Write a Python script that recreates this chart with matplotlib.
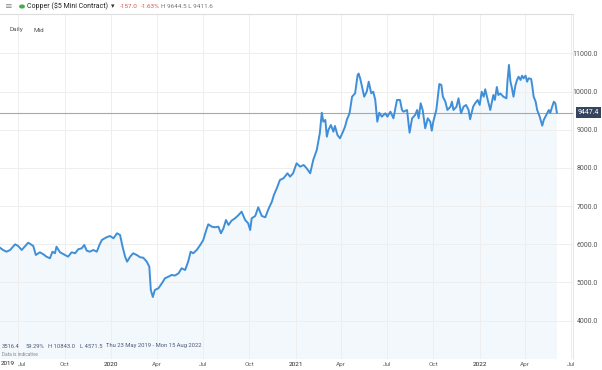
import numpy as np
import pandas as pd
import matplotlib
matplotlib.use("Agg")
import matplotlib.pyplot as plt
import matplotlib.transforms as mtransforms

plt.rcParams['font.family'] = ['Roboto', 'DejaVu Sans']

# copper ($5 mini contract)
dates = [
    "2019-05-23", "2019-06-01", "2019-06-08", "2019-06-15", "2019-06-25", "2019-07-01",
    "2019-07-08", "2019-07-15", "2019-07-21", "2019-07-28", "2019-07-31", "2019-08-05",
    "2019-08-13", "2019-08-20", "2019-08-26", "2019-09-02", "2019-09-07", "2019-09-12",
    "2019-09-15", "2019-09-22", "2019-10-02", "2019-10-08", "2019-10-15", "2019-10-22",
    "2019-10-28", "2019-11-04", "2019-11-09", "2019-11-14", "2019-11-20", "2019-11-27",
    "2019-12-04", "2019-12-09", "2019-12-14", "2019-12-23", "2019-12-30",
    "2020-01-06", "2020-01-13", "2020-01-19", "2020-01-24", "2020-01-29", "2020-02-02",
    "2020-02-08", "2020-02-14", "2020-02-21", "2020-02-28", "2020-03-05", "2020-03-12",
    "2020-03-17", "2020-03-20", "2020-03-24", "2020-03-28", "2020-04-04", "2020-04-11",
    "2020-04-17", "2020-04-24", "2020-04-30", "2020-05-07", "2020-05-14", "2020-05-20",
    "2020-05-27", "2020-06-02", "2020-06-07", "2020-06-12", "2020-06-19", "2020-06-26",
    "2020-07-02", "2020-07-09", "2020-07-12", "2020-07-19", "2020-07-25", "2020-08-01",
    "2020-08-06", "2020-08-11", "2020-08-16", "2020-08-21", "2020-08-27", "2020-09-03",
    "2020-09-10", "2020-09-16", "2020-09-23", "2020-09-29", "2020-10-03", "2020-10-06",
    "2020-10-13", "2020-10-19", "2020-10-26", "2020-11-02", "2020-11-08", "2020-11-15",
    "2020-11-19", "2020-11-26", "2020-12-01", "2020-12-08", "2020-12-16", "2020-12-21",
    "2020-12-27",
    "2021-01-03", "2021-01-10", "2021-01-17", "2021-01-23", "2021-01-30", "2021-02-05",
    "2021-02-12", "2021-02-18", "2021-02-22", "2021-02-25", "2021-03-01", "2021-03-04",
    "2021-03-07", "2021-03-12", "2021-03-17", "2021-03-20", "2021-03-25", "2021-03-30",
    "2021-04-05", "2021-04-09", "2021-04-13", "2021-04-18", "2021-04-23", "2021-04-29",
    "2021-05-04", "2021-05-06", "2021-05-09", "2021-05-12", "2021-05-17", "2021-05-22",
    "2021-05-26", "2021-05-31", "2021-06-04", "2021-06-08", "2021-06-12", "2021-06-16",
    "2021-06-21", "2021-06-28", "2021-07-02", "2021-07-08", "2021-07-14", "2021-07-21",
    "2021-07-27", "2021-07-31", "2021-08-03", "2021-08-10", "2021-08-15", "2021-08-20",
    "2021-08-26", "2021-08-30", "2021-09-02", "2021-09-06", "2021-09-10", "2021-09-15",
    "2021-09-20", "2021-09-25", "2021-09-28", "2021-10-01", "2021-10-07", "2021-10-10",
    "2021-10-13", "2021-10-17", "2021-10-20", "2021-10-25", "2021-10-29", "2021-11-04",
    "2021-11-07", "2021-11-10", "2021-11-16", "2021-11-20", "2021-11-25", "2021-11-30",
    "2021-12-05", "2021-12-10", "2021-12-13", "2021-12-19", "2021-12-23", "2021-12-28",
    "2022-01-01", "2022-01-05", "2022-01-09", "2022-01-12", "2022-01-17", "2022-01-22",
    "2022-01-28", "2022-01-31", "2022-02-04", "2022-02-07", "2022-02-11", "2022-02-17",
    "2022-02-23", "2022-02-25", "2022-02-28", "2022-03-03", "2022-03-06", "2022-03-09",
    "2022-03-13", "2022-03-16", "2022-03-19", "2022-03-23", "2022-03-26", "2022-03-29",
    "2022-04-02", "2022-04-05", "2022-04-08", "2022-04-13", "2022-04-15", "2022-04-18",
    "2022-04-22", "2022-04-25", "2022-04-30", "2022-05-05", "2022-05-08", "2022-05-13",
    "2022-05-18", "2022-05-21", "2022-05-24", "2022-05-28", "2022-05-31", "2022-06-03",
]
prices = [
    5940, 5851, 5806, 5851, 6000, 5956,
    5851, 5956, 6042, 5982, 5956, 5720,
    5791, 5738, 5676, 5634, 5806, 5765,
    5937, 5791, 5720, 5676, 5791, 5765,
    5869, 5895, 5982, 5833, 5806, 5851,
    5806, 5982, 6113, 6183, 6217,
    6157, 6288, 6244, 5937, 5676, 5545,
    5676, 5765, 5720, 5660, 5649, 5545,
    5414, 4804, 4620, 4804, 4848, 4979,
    5110, 5152, 5196, 5183, 5241, 5372,
    5327, 5545, 5806, 5765, 5851, 5982,
    6113, 6419, 6524, 6461, 6445, 6461,
    6288, 6419, 6636, 6505, 6618, 6681,
    6767, 6854, 6636, 6550, 6374, 6681,
    6742, 6969, 6742, 6707, 6916, 7115,
    7291, 7508, 7684, 7728, 7859, 7770,
    7859,
    8121, 8032, 8076, 7990, 7859, 8207,
    8469, 8906, 9445, 9210, 9255, 8817,
    8993, 9124, 8948, 9097, 8862, 8775,
    8948, 9079, 9273, 9430, 9864, 9953,
    10432, 10470, 10346, 10171, 9864, 9995,
    10257, 9953, 9995, 9778, 9210, 9445,
    9341, 9430, 9341, 9472, 9299, 9778,
    9778, 9516, 9472, 9516, 8922, 9299,
    9385, 9516, 9299, 9692, 9516, 9037,
    9299, 9210, 8974, 9210, 9516, 9864,
    10197, 10171, 9864, 9733, 9516, 9602,
    9733, 9516, 9602, 9822, 9430, 9602,
    9647, 9516, 9273, 9602, 9692, 9778,
    9647, 9995, 9864, 10058, 9778, 9516,
    9909, 9778, 10118, 9909, 9948, 9864,
    9822, 10257, 10695, 10257, 10084, 9864,
    10171, 10302, 10388, 10302, 10414, 10346,
    10414, 10257, 10346, 10328, 10171, 9864,
    9733, 9516, 9341, 9105, 9255, 9385,
    9516, 9438, 9576, 9733, 9692, 9447,
]

last_price = 9447.4
y_ticks = [4000, 5000, 6000, 7000, 8000, 9000, 10000, 11000]
x_ticks = ["2019-07-01", "2019-10-01", "2020-01-01", "2020-04-01", "2020-07-01",
           "2020-10-01", "2021-01-01", "2021-04-01", "2021-07-01", "2021-10-01",
           "2022-01-01", "2022-04-01", "2022-07-01"]
x_labels = ["Jul", "Oct", "2020", "Apr", "Jul", "Oct", "2021", "Apr", "Jul",
            "Oct", "2022", "Apr", "Jul"]
footer = ["3516.4", "59.29%", "H 10843.0", "L 4571.5", "Thu 23 May 2019 - Mon 15 Aug 2022"]
footer_x = [2, 25, 48, 80, 106]

d = pd.to_datetime(dates)
xt = pd.to_datetime(x_ticks)

W, H = 602, 370
fig = plt.figure(figsize=(W / 100, H / 100), dpi=100)
ax = fig.add_axes([0, 1 - 359 / H, 573 / W, (359 - 14) / H])

line_col = "#3f8fd8"
ax.fill_between(d, prices, 0, color="#f3f8fd", lw=0, zorder=1)
ax.plot(d, prices, color=line_col, lw=1.4, zorder=3, solid_joinstyle="round")
ax.axhline(last_price, color="#a8a8a8", lw=0.8, zorder=2)

ax.set_xlim(pd.Timestamp("2019-05-26"), pd.Timestamp("2022-07-05"))
ax.set_ylim(2997, 12029)

ax.set_xticks(xt)
ax.set_xticklabels(x_labels)
ax.set_yticks(y_ticks)
ax.set_yticklabels([f"{v:.1f}" for v in y_ticks])
ax.yaxis.tick_right()
ax.tick_params(axis="y", length=0, pad=18, labelsize=5.0, labelcolor="#555555")
ax.tick_params(axis="x", length=0, pad=2.5, labelsize=4.6, labelcolor="#666666")
for lab in ax.get_yticklabels():
    lab.set_horizontalalignment("right")
for lab in ax.get_xticklabels():
    if lab.get_text().isdigit():
        lab.set_color("#222222")
ax.get_xticklabels()[0].set_horizontalalignment("left")

ax.grid(True, color="#eeeeee", lw=0.7, zorder=0)
for s in ["left", "bottom"]:
    ax.spines[s].set_visible(False)
ax.spines["top"].set_color("#dddddd")
ax.spines["top"].set_linewidth(0.8)
ax.spines["right"].set_color("#e6e6e6")
ax.spines["right"].set_linewidth(0.7)

# last price tag
tr = mtransforms.blended_transform_factory(ax.transAxes, ax.transData)
ax.text(588.5 / 573, last_price, "9447.4", transform=tr, ha="center", va="center",
        fontsize=5.0, color="white", clip_on=False,
        bbox=dict(boxstyle="square,pad=0.25", fc="#34435e", ec="none"))

# header
hy = 1 - 6.5 / H
fig.text(4 / W, hy, "\u2261", fontsize=6.5, color="#888888", va="center")
fig.patches.append(plt.Circle((22 / W, hy), 2.2 / W, transform=fig.transFigure,
                              color="#3fae49", figure=fig))
fig.text(27 / W, hy, "Copper ($5 Mini Contract)", fontsize=5.0,
         color="#222222", va="center")
fig.text(111 / W, hy, "\u25BE", fontsize=5.0, color="#333333", va="center")
fig.text(120 / W, hy, "-157.0", fontsize=4.6, color="#d9534f", va="center")
fig.text(141 / W, hy, "-1.63%", fontsize=4.6, color="#d9534f", va="center")
fig.text(161 / W, hy, "H 9644.5 L 9411.6", fontsize=4.6, color="#777777",
         va="center")

fig.text(10 / W, 1 - 30 / H, "Daily", fontsize=4.6, color="#555555", va="center")
fig.text(33 / W, 1 - 30 / H, "Mid", fontsize=4.6, color="#555555", va="center")

# footer info
for txt, fx in zip(footer, footer_x):
    fig.text(fx / W, 1 - 346 / H, txt, fontsize=4.2, color="#4d5b78", va="center")
fig.text(2 / W, 1 - 355 / H, "Data is indicative", fontsize=3.4, color="#888888",
         va="center")
fig.text(1 / W, 1 - 363.5 / H, "2019", fontsize=4.5, color="#222222", va="center")

fig.savefig("out.png", dpi=100)
